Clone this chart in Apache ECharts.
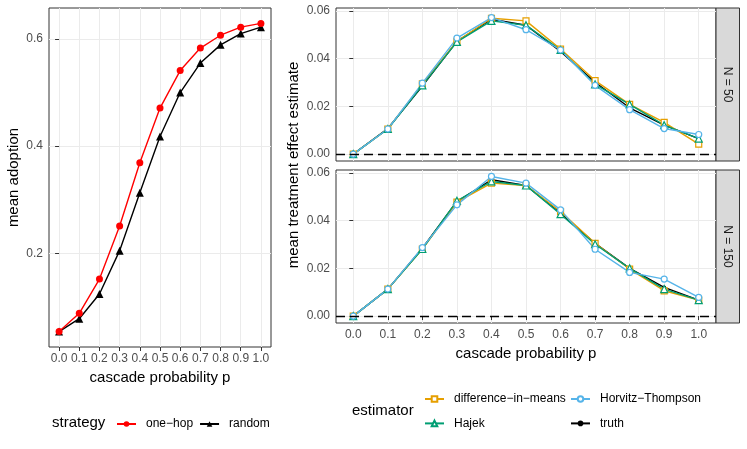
<!DOCTYPE html>
<html>
<head>
<meta charset="utf-8">
<script src="https://cdn.jsdelivr.net/npm/echarts@6/dist/echarts.min.js"></script>
<style>
  html, body { margin: 0; padding: 0; background: #fff; }
  #chart { width: 747px; height: 449px; }
</style>
</head>
<body>
<div id="chart"></div>
<script>
// cascade probability p (x axis of every panel)
var p = [0.0, 0.1, 0.2, 0.3, 0.4, 0.5, 0.6, 0.7, 0.8, 0.9, 1.0];

// left panel: mean adoption per strategy
var oneHop = [0.054, 0.088, 0.152, 0.251, 0.369, 0.471, 0.541, 0.583, 0.607, 0.622, 0.629];
var random = [0.054, 0.078, 0.124, 0.205, 0.313, 0.418, 0.500, 0.555, 0.589, 0.610, 0.622];

// right panels: mean treatment effect estimate, N = 50
var dimN50   = [0, 0.0105, 0.0294, 0.0472, 0.0569, 0.0558, 0.0440, 0.0308, 0.0208, 0.0133, 0.0042];
var hajekN50 = [0, 0.0105, 0.0288, 0.0470, 0.0558, 0.0540, 0.0436, 0.0292, 0.0208, 0.0121, 0.0065];
var htN50    = [0, 0.0105, 0.0297, 0.0486, 0.0572, 0.0521, 0.0436, 0.0288, 0.0186, 0.0107, 0.0082];
var truthN50 = [0, 0.0107, 0.0285, 0.0472, 0.0565, 0.0540, 0.0430, 0.0301, 0.0194, 0.0121, 0.0065];

// N = 150
var dimN150   = [0, 0.0113, 0.0281, 0.0477, 0.0557, 0.0547, 0.0438, 0.0305, 0.0197, 0.0106, 0.0067];
var hajekN150 = [0, 0.0113, 0.0281, 0.0483, 0.0564, 0.0547, 0.0427, 0.0301, 0.0200, 0.0113, 0.0067];
var htN150    = [0, 0.0113, 0.0287, 0.0466, 0.0585, 0.0557, 0.0445, 0.0280, 0.0183, 0.0155, 0.0078];
var truthN150 = [0, 0.0113, 0.0284, 0.0480, 0.0571, 0.0547, 0.0431, 0.0305, 0.0200, 0.0120, 0.0067];

// tick labels
var xTicks = [0.0, 0.1, 0.2, 0.3, 0.4, 0.5, 0.6, 0.7, 0.8, 0.9, 1.0];
var adoptionTicks = [0.2, 0.4, 0.6];
var effectTicks = [0.00, 0.02, 0.04, 0.06];

var FONT = '"Liberation Sans", Arial, Helvetica, sans-serif';
var colors = {
  oneHop: '#FF0000',
  random: '#000000',
  dim: '#E69F00',
  hajek: '#009E73',
  ht: '#56B4E9',
  truth: '#000000',
  grid: '#EBEBEB',
  border: '#333333',
  tickText: '#4D4D4D'
};

function zip(xs, ys) {
  var out = [];
  for (var i = 0; i < xs.length; i++) out.push([xs[i], ys[i]]);
  return out;
}

function xAxisFor(gridIndex, showLabels, name) {
  return {
    type: 'value', gridIndex: gridIndex, min: -0.05, max: 1.05,
    axisLine: { show: false },
    axisTick: { show: showLabels, length: 4, customValues: xTicks, lineStyle: { color: colors.border } },
    axisLabel: {
      show: showLabels, customValues: xTicks, margin: 6,
      fontFamily: FONT, fontSize: 12, color: colors.tickText,
      formatter: function (v) { return v.toFixed(1); }
    },
    splitLine: { show: true, lineStyle: { color: colors.grid, width: 1 } },
    name: name || '', nameLocation: 'middle', nameGap: 23.5,
    nameTextStyle: { fontFamily: FONT, fontSize: 15, color: '#000' }
  };
}

function yAxisFor(gridIndex, min, max, ticks, digits, name) {
  return {
    type: 'value', gridIndex: gridIndex, min: min, max: max,
    axisLine: { show: false },
    axisTick: { show: true, length: 4, customValues: ticks, lineStyle: { color: colors.border } },
    axisLabel: {
      customValues: ticks, margin: 6,
      fontFamily: FONT, fontSize: 12, color: colors.tickText,
      formatter: function (v) { return v.toFixed(digits); }
    },
    splitLine: { show: true, lineStyle: { color: colors.grid, width: 1 } },
    name: name || '', nameLocation: 'middle', nameGap: 28,
    nameTextStyle: { fontFamily: FONT, fontSize: 15, color: '#000' }
  };
}

function lineSeries(name, data, color, symbol, size, axisIdx, filled) {
  return {
    name: name, type: 'line', data: data,
    xAxisIndex: axisIdx, yAxisIndex: axisIdx,
    symbol: symbol, symbolSize: size, showAllSymbol: true,
    lineStyle: { color: color, width: 1.4 },
    itemStyle: { color: filled ? color : '#fff', borderColor: color, borderWidth: filled ? 0 : 1.2 },
    emphasis: { disabled: true },
    animation: false
  };
}

function zeroLine(axisIdx) {
  return {
    type: 'line', data: [], xAxisIndex: axisIdx, yAxisIndex: axisIdx,
    markLine: {
      silent: true, symbol: 'none', animation: false,
      label: { show: false },
      lineStyle: { color: '#000', type: [9, 5], width: 1.4 },
      data: [{ yAxis: 0 }]
    }
  };
}

var legendText = { fontFamily: FONT, fontSize: 12, color: '#000', padding: [0, 0, 0, 5] };
function minusSign(n) { return n.replace(/-/g, '\u2212'); }

var panelGrid = { show: true, backgroundColor: '#fff', borderColor: colors.border, borderWidth: 1, outerBoundsMode: 'none', containLabel: false };

var option = {
  animation: false,
  textStyle: { fontFamily: FONT },
  grid: [
    Object.assign({ left: 49, top: 8, width: 222, height: 339 }, panelGrid),
    Object.assign({ left: 336, top: 8, width: 380, height: 153 }, panelGrid),
    Object.assign({ left: 336, top: 170, width: 380, height: 153 }, panelGrid)
  ],
  xAxis: [
    xAxisFor(0, true, 'cascade probability p'),
    xAxisFor(1, false),
    xAxisFor(2, true, 'cascade probability p')
  ],
  yAxis: [
    yAxisFor(0, 0.0252, 0.6578, adoptionTicks, 1, 'mean adoption'),
    yAxisFor(1, -0.0029, 0.0612, effectTicks, 2),
    yAxisFor(2, -0.0029, 0.0612, effectTicks, 2)
  ],
  legend: [
    {
      data: ['one-hop', 'random'], left: 111, top: 413,
      itemWidth: 19, itemHeight: 7, itemGap: 6,
      textStyle: legendText, formatter: minusSign, selectedMode: false
    },
    {
      data: ['difference-in-means', 'Hajek'], orient: 'vertical', left: 419, top: 388,
      itemWidth: 19, itemHeight: 7, itemGap: 12.4,
      textStyle: legendText, formatter: minusSign, selectedMode: false
    },
    {
      data: ['Horvitz-Thompson', 'truth'], orient: 'vertical', left: 565, top: 388,
      itemWidth: 19, itemHeight: 7, itemGap: 12.4,
      textStyle: legendText, formatter: minusSign, selectedMode: false
    }
  ],
  graphic: [
    { type: 'text', x: 293.5, y: 165, rotation: Math.PI / 2,
      style: { text: 'mean treatment effect estimate', x: 0, y: 0, align: 'center', verticalAlign: 'middle', font: '15px ' + FONT, fill: '#000' } },
    { type: 'rect', shape: { x: 716, y: 8, width: 23.5, height: 153 },
      style: { fill: '#D9D9D9', stroke: colors.border, lineWidth: 1 } },
    { type: 'text', x: 727.8, y: 84.5, rotation: -Math.PI / 2,
      style: { text: 'N = 50', x: 0, y: 0, align: 'center', verticalAlign: 'middle', font: '12px ' + FONT, fill: '#1A1A1A' } },
    { type: 'rect', shape: { x: 716, y: 170, width: 23.5, height: 153 },
      style: { fill: '#D9D9D9', stroke: colors.border, lineWidth: 1 } },
    { type: 'text', x: 727.8, y: 246.5, rotation: -Math.PI / 2,
      style: { text: 'N = 150', x: 0, y: 0, align: 'center', verticalAlign: 'middle', font: '12px ' + FONT, fill: '#1A1A1A' } },
    { type: 'text', x: 52, y: 423,
      style: { text: 'strategy', x: 0, y: 0, align: 'left', verticalAlign: 'middle', font: '15px ' + FONT, fill: '#000' } },
    { type: 'text', x: 352, y: 411,
      style: { text: 'estimator', x: 0, y: 0, align: 'left', verticalAlign: 'middle', font: '15px ' + FONT, fill: '#000' } }
  ],
  series: [
    lineSeries('random', zip(p, random), colors.random, 'triangle', 8, 0, true),
    lineSeries('one-hop', zip(p, oneHop), colors.oneHop, 'circle', 7, 0, true),

    zeroLine(1),
    lineSeries('truth', zip(p, truthN50), colors.truth, 'circle', 4, 1, true),
    lineSeries('difference-in-means', zip(p, dimN50), colors.dim, 'rect', 6, 1, false),
    lineSeries('Hajek', zip(p, hajekN50), colors.hajek, 'triangle', 7, 1, false),
    lineSeries('Horvitz-Thompson', zip(p, htN50), colors.ht, 'circle', 6, 1, false),

    zeroLine(2),
    lineSeries('truth', zip(p, truthN150), colors.truth, 'circle', 4, 2, true),
    lineSeries('difference-in-means', zip(p, dimN150), colors.dim, 'rect', 6, 2, false),
    lineSeries('Hajek', zip(p, hajekN150), colors.hajek, 'triangle', 7, 2, false),
    lineSeries('Horvitz-Thompson', zip(p, htN150), colors.ht, 'circle', 6, 2, false)
  ]
};

var chart = echarts.init(document.getElementById('chart'), null, { renderer: 'canvas' });
chart.setOption(option);
</script>
</body>
</html>
